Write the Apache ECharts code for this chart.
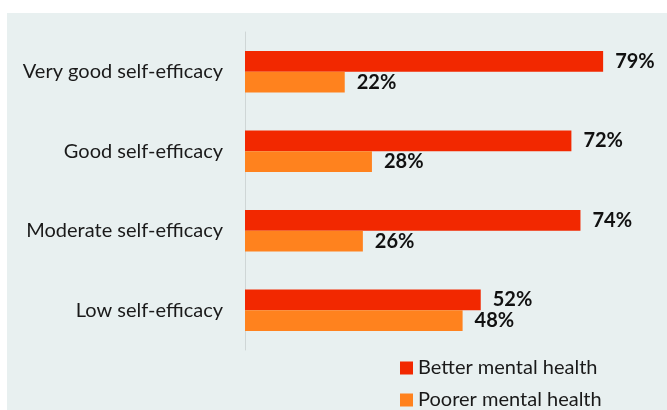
<!DOCTYPE html>
<html><head><meta charset="utf-8">
<script src="https://cdn.jsdelivr.net/npm/echarts@6/dist/echarts.min.js"></script>
<style>html,body{margin:0;padding:0;background:#fff}#c{width:667px;height:410px}</style>
</head><body><div id="c"></div>
<script>
const categories = ['Very good self-efficacy','Good self-efficacy','Moderate self-efficacy','Low self-efficacy'];
const better = [79, 72, 74, 52];
const poorer = [22, 28, 26, 48];
const seriesNames = ['Better mental health','Poorer mental health'];

const chart = echarts.init(document.getElementById('c'), null, {renderer:'canvas'});
const lbl = {show:true, position:'right', distance:12, formatter:'{c}%', fontFamily:'Lato', fontWeight:'bold', fontSize:20, color:'#111'};
const legendBase = {orient:'vertical', left:400, padding:0, itemWidth:13, itemHeight:13, icon:'rect',
    textStyle:{fontFamily:'Lato', fontSize:20, color:'#1a1a1a'}};
chart.setOption({
  animation:false,
  backgroundColor:'#ffffff',
  graphic:[{type:'rect', z:-10, shape:{x:7,y:13,width:660,height:397}, style:{fill:'#E8F0F0'}}],
  grid:{left:245, top:32, width:408, height:318, containLabel:false},
  xAxis:{type:'value', min:0, max:90, show:false},
  yAxis:{type:'category', data:categories, inverse:true,
    axisLine:{show:true, lineStyle:{color:'#cfd6d6', width:1}},
    axisTick:{show:false},
    axisLabel:{fontFamily:'Lato', fontSize:20, color:'#1a1a1a', margin:22}},
  legend:[
    Object.assign({}, legendBase, {top:358, data:[seriesNames[0]]}),
    Object.assign({}, legendBase, {top:390, data:[seriesNames[1]]})
  ],
  series:[
    {name:seriesNames[0], type:'bar', data:better, barGap:'0%', barCategoryGap:'48%', itemStyle:{color:'#F22800'}, label:lbl},
    {name:seriesNames[1], type:'bar', data:poorer, barGap:'0%', barCategoryGap:'48%', itemStyle:{color:'#FF821E'}, label:lbl}
  ]
});
</script></body></html>
